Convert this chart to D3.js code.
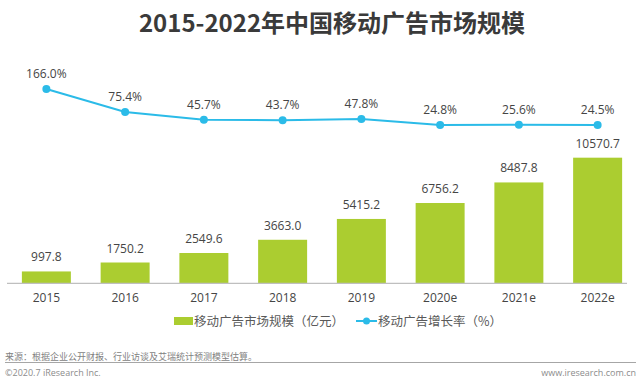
<!DOCTYPE html>
<html>
<head>
<meta charset="utf-8">
<script src="https://cdn.jsdelivr.net/npm/d3@7"></script>
<style>
  body { margin: 0; background: #fff; }
  text { font-family: "Open Sans", "Noto Sans CJK SC", sans-serif; }
</style>
</head>
<body>
<div id="chart"></div>
<script>
// data
var years = ['2015', '2016', '2017', '2018', '2019', '2020e', '2021e', '2022e'];
var marketSize = [997.8, 1750.2, 2549.6, 3663.0, 5415.2, 6756.2, 8487.8, 10570.7];
var growthRate = [166.0, 75.4, 45.7, 43.7, 47.8, 24.8, 25.6, 24.5];

var width = 640, height = 384;
var BAR = '#abcd30', LINE = '#2bbbe8', TXT = '#454545';
var cjk = '"Noto Sans CJK SC", sans-serif';

var svg = d3.select('#chart').append('svg')
  .attr('width', width)
  .attr('height', height);

// title
svg.append('text')
  .attr('x', 332)
  .attr('y', 32)
  .attr('text-anchor', 'middle')
  .style('font-family', cjk)
  .style('font-size', '24px')
  .style('font-weight', 'bold')
  .style('fill', '#3a3a3a')
  .text('2015-2022年中国移动广告市场规模');

var x = d3.scaleBand()
  .domain(years)
  .range([7, 637])
  .paddingInner(0.378)
  .paddingOuter(0.189);

var y = d3.scaleLinear().domain([0, 12000]).range([283.3, 140.7]);
var y2 = d3.scaleLinear().domain([0, 200]).range([131.3, 80.3]);

// bars
svg.selectAll('.bar')
  .data(marketSize)
  .enter()
  .append('rect')
    .attr('class', 'bar')
    .attr('x', function(d, i) { return x(years[i]); })
    .attr('y', function(d) { return y(d); })
    .attr('width', x.bandwidth())
    .attr('height', function(d) { return y(0) - y(d); })
    .attr('fill', BAR);

svg.selectAll('.bar-label')
  .data(marketSize)
  .enter()
  .append('text')
    .attr('x', function(d, i) { return x(years[i]) + x.bandwidth() / 2; })
    .attr('y', function(d) { return y(d) - 10; })
    .attr('text-anchor', 'middle')
    .style('font-size', '12px')
    .style('fill', TXT)
    .text(function(d) { return d.toFixed(1); });

// x axis
var xAxis = svg.append('g')
  .attr('transform', 'translate(0,' + y(0) + ')')
  .call(d3.axisBottom(x).tickSize(0).tickPadding(10));
xAxis.select('.domain').remove();
xAxis.append('line')
  .attr('x1', 7).attr('x2', 627)
  .attr('stroke', '#bfbfbf')
  .attr('stroke-width', 1.2);
xAxis.selectAll('.tick text')
  .style('font-family', '"Open Sans", sans-serif')
  .style('font-size', '12px')
  .style('fill', TXT);

// growth line
var line = d3.line()
  .x(function(d, i) { return x(years[i]) + x.bandwidth() / 2; })
  .y(function(d) { return y2(d); });

svg.append('path')
  .datum(growthRate)
  .attr('fill', 'none')
  .attr('stroke', LINE)
  .attr('stroke-width', 2)
  .attr('d', line);

svg.selectAll('.dot')
  .data(growthRate)
  .enter()
  .append('circle')
    .attr('cx', function(d, i) { return x(years[i]) + x.bandwidth() / 2; })
    .attr('cy', function(d) { return y2(d); })
    .attr('r', 4)
    .attr('fill', LINE);

svg.selectAll('.rate-label')
  .data(growthRate)
  .enter()
  .append('text')
    .attr('x', function(d, i) { return x(years[i]) + x.bandwidth() / 2; })
    .attr('y', function(d) { return y2(d) - 11; })
    .attr('text-anchor', 'middle')
    .style('font-size', '12px')
    .style('fill', TXT)
    .text(function(d) { return d.toFixed(1) + '%'; });

// legend
var legend = svg.append('g');
legend.append('rect')
  .attr('x', 174).attr('y', 317)
  .attr('width', 19).attr('height', 8)
  .attr('fill', BAR);
legend.append('text')
  .attr('x', 194).attr('y', 326)
  .style('font-family', cjk)
  .style('font-size', '12.5px')
  .style('fill', '#595959')
  .text('移动广告市场规模（亿元）');

legend.append('line')
  .attr('x1', 356).attr('x2', 377)
  .attr('y1', 321).attr('y2', 321)
  .attr('stroke', LINE).attr('stroke-width', 2);
legend.append('circle')
  .attr('cx', 366.5).attr('cy', 321).attr('r', 3.5)
  .attr('fill', LINE);
legend.append('text')
  .attr('x', 378).attr('y', 326)
  .style('font-family', cjk)
  .style('font-size', '12.5px')
  .style('fill', '#595959')
  .text('移动广告增长率（%）');

// footer
svg.append('text')
  .attr('x', 5).attr('y', 360)
  .style('font-family', cjk)
  .style('font-size', '9px')
  .style('fill', '#7f7f7f')
  .text('来源：根据企业公开财报、行业访谈及艾瑞统计预测模型估算。');

svg.append('line')
  .attr('x1', 5).attr('x2', 636)
  .attr('y1', 362.5).attr('y2', 362.5)
  .attr('stroke', '#a6a6a6')
  .attr('stroke-width', 1);

svg.append('text')
  .attr('x', 5).attr('y', 376)
  .style('font-size', '9px')
  .style('fill', '#8c8c8c')
  .text('©2020.7 iResearch Inc.');

svg.append('text')
  .attr('x', 636).attr('y', 376)
  .attr('text-anchor', 'end')
  .style('font-size', '9px')
  .style('fill', '#8c8c8c')
  .text('www.iresearch.com.cn');
</script>
</body>
</html>
